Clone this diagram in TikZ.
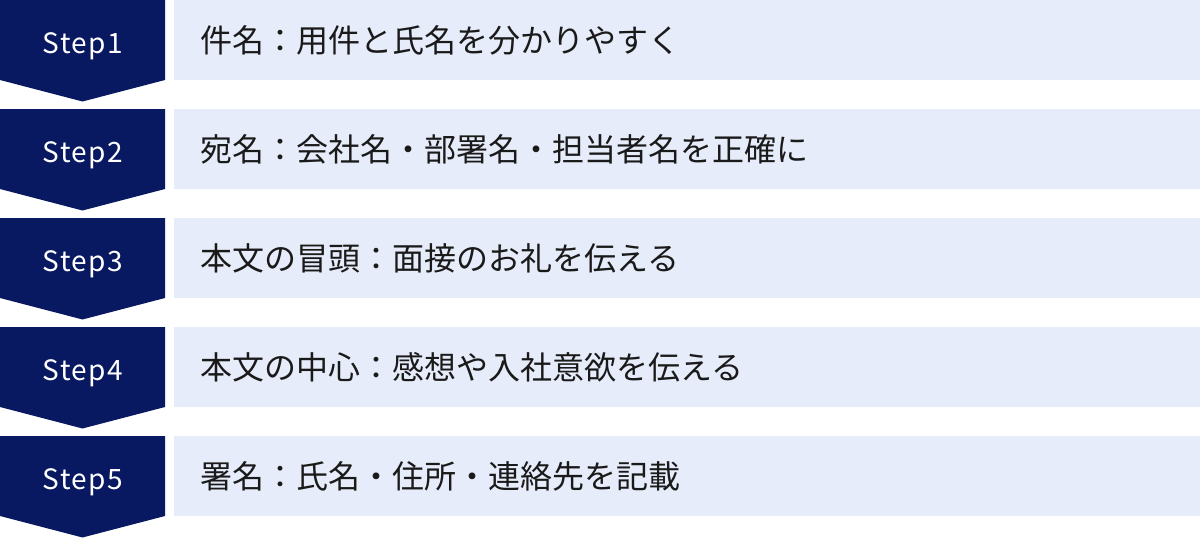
\documentclass[tikz,border=0pt]{standalone}
\usepackage{fontspec}
\setmainfont{Noto Sans CJK JP}
\newfontfamily\stepfont[LetterSpace=5]{Noto Sans CJK JP}
\definecolor{navy}{RGB}{8,25,97}
\definecolor{boxbg}{RGB}{230,236,249}
\definecolor{txt}{RGB}{26,26,26}
\tikzset{
  stepshape/.style={fill=navy, draw=none},
  stepbox/.style={fill=boxbg, draw=none},
  steplabel/.style={text=white, font=\stepfont\fontsize{28}{33}\selectfont, anchor=base, inner sep=0pt},
  desc/.style={text=txt, font=\fontsize{32}{38}\selectfont, anchor=west, inner sep=0pt},
}
\begin{document}
\begin{tikzpicture}[x=1pt,y=-1pt]
\useasboundingbox (0,0) rectangle (1200,538);
\foreach \i/\lab/\txt in {0/Step1/件名：用件と氏名を分かりやすく,
  1/Step2/宛名：会社名・部署名・担当者名を正確に,
  2/Step3/本文の冒頭：面接のお礼を伝える,
  3/Step4/本文の中心：感想や入社意欲を伝える,
  4/Step5/署名：氏名・住所・連絡先を記載}{
  \pgfmathsetmacro{\t}{\i*109}
  \fill[stepbox] (174,\t) rectangle (1200,\t+80);
  \fill[stepshape] (0,\t) -- (165,\t) -- (165,\t+80) -- (82.5,\t+101.5) -- (0,\t+80) -- cycle;
  \node[steplabel] (s\i) at (83,\t+53.5) {\lab};
  \node[desc] (d\i) at (200,\t+40) {\txt};
}
\end{tikzpicture}
\end{document}
